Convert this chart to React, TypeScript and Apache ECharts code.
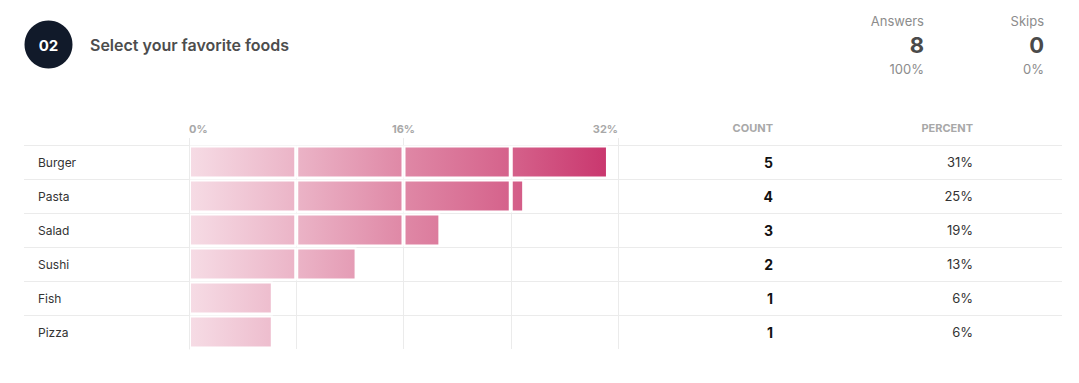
import React, { useEffect, useRef } from 'react';
import * as echarts from 'echarts';

// ---- data ----
const questionNumber = '02';
const questionTitle = 'Select your favorite foods';
const foods = ['Burger', 'Pasta', 'Salad', 'Sushi', 'Fish', 'Pizza'];
const counts = [5, 4, 3, 2, 1, 1];
const percentValues = [31.25, 25, 18.75, 12.5, 6.25, 6.25];
const percentLabels = ['31%', '25%', '19%', '13%', '6%', '6%'];
const segmentStarts = [0, 8, 16, 24];
const segmentSize = 8;
const axisMin = 0;
const axisMax = 32;
const axisInterval = 16;
const answersLabel = 'Answers';
const answersCount = '8';
const answersPct = '100%';
const skipsLabel = 'Skips';
const skipsCount = '0';
const skipsPct = '0%';

const FONT = 'Inter, "Noto Sans", sans-serif';

export default function App() {
  const ref = useRef<HTMLDivElement>(null);

  useEffect(() => {
    document.body.style.margin = '0';
    if (!ref.current) return;
    const chart = echarts.init(ref.current, null, { renderer: 'svg' });

    // bottom-to-top order for non-inverse category axes
    const cats = foods.slice().reverse();
    const cnt = counts.map(String).reverse();
    const pctL = percentLabels.slice().reverse();
    const pctV = percentValues.slice().reverse();

    const gridLeft = 189;
    const gridWidth = 429;
    const gradient = {
      type: 'linear',
      x: gridLeft,
      y: 0,
      x2: gridLeft + gridWidth,
      y2: 0,
      global: true,
      colorStops: [
        { offset: 0, color: '#f6dce5' },
        { offset: 0.25, color: '#ebb4c7' },
        { offset: 0.5, color: '#df88a6' },
        { offset: 0.75, color: '#d5628b' },
        { offset: 1, color: '#c8326b' },
      ],
    };

    const segSeries = segmentStarts.map((s, k) => ({
      type: 'bar',
      name: 'seg' + k,
      stack: 'pct',
      xAxisIndex: 0,
      yAxisIndex: 0,
      barWidth: 33,
      data: pctV.map((p) => {
        const v = Math.max(0, Math.min(segmentSize, p - s));
        return v > 0 ? v : '-';
      }),
      itemStyle: { color: gradient, borderColor: '#ffffff', borderWidth: 2 },
      emphasis: { disabled: true },
      silent: true,
    }));

    const labelGray = '#a8a8a8';
    const gridColor = '#ebebeb';

    chart.setOption({
      animation: false,
      backgroundColor: '#ffffff',
      textStyle: { fontFamily: FONT },
      grid: [
        { left: gridLeft, top: 145, width: gridWidth, height: 204, containLabel: false },
        { left: 24, top: 145, width: 1038, height: 204, containLabel: false },
      ],
      xAxis: [
        {
          gridIndex: 0,
          type: 'value',
          position: 'top',
          min: axisMin,
          max: axisMax,
          interval: axisInterval,
          axisLine: { show: false },
          axisTick: { show: true, length: 7, lineStyle: { color: gridColor } },
          axisLabel: {
            formatter: '{value}%',
            color: labelGray,
            fontSize: 11,
            fontWeight: 700,
            fontFamily: FONT,
            margin: 11,
            alignMinLabel: 'left',
            alignMaxLabel: 'right',
          },
          splitLine: { show: true, lineStyle: { color: gridColor } },
          minorTick: { show: false, splitNumber: 2 },
          minorSplitLine: { show: true, lineStyle: { color: gridColor } },
        },
        {
          gridIndex: 1,
          type: 'value',
          min: 0,
          max: 1,
          show: false,
        },
      ],
      yAxis: [
        {
          gridIndex: 0,
          type: 'category',
          data: cats,
          z: 10,
          axisLine: { show: true, lineStyle: { color: gridColor } },
          axisTick: { show: false },
          axisLabel: {
            align: 'left',
            margin: gridLeft - 38,
            color: '#333333',
            fontSize: 12,
            fontFamily: FONT,
          },
          splitLine: { show: false },
        },
        {
          gridIndex: 0,
          type: 'category',
          data: cnt,
          position: 'right',
          offset: 773 - (gridLeft + gridWidth),
          axisLine: { show: false },
          axisTick: { show: false },
          axisLabel: {
            align: 'right',
            margin: 0,
            color: '#111111',
            fontSize: 14,
            fontWeight: 700,
            fontFamily: FONT,
          },
          name: 'COUNT',
          nameLocation: 'end',
          nameGap: 17,
          nameTextStyle: {
            align: 'right',
            verticalAlign: 'middle',
            color: labelGray,
            fontSize: 11,
            fontWeight: 700,
            fontFamily: FONT,
          },
        },
        {
          gridIndex: 0,
          type: 'category',
          data: pctL,
          position: 'right',
          offset: 973 - (gridLeft + gridWidth),
          axisLine: { show: false },
          axisTick: { show: false },
          axisLabel: {
            align: 'right',
            margin: 0,
            color: '#333333',
            fontSize: 13,
            fontFamily: FONT,
          },
          name: 'PERCENT',
          nameLocation: 'end',
          nameGap: 17,
          nameTextStyle: {
            align: 'right',
            verticalAlign: 'middle',
            color: labelGray,
            fontSize: 11,
            fontWeight: 700,
            fontFamily: FONT,
          },
        },
        {
          gridIndex: 1,
          type: 'value',
          min: 0,
          max: foods.length,
          interval: 1,
          axisLine: { show: false },
          axisTick: { show: false },
          axisLabel: { show: false },
          splitLine: { show: true, showMinLine: false, lineStyle: { color: gridColor } },
        },
      ],
      series: segSeries,
      graphic: [
        { type: 'circle', shape: { cx: 48.5, cy: 44.5, r: 24 }, style: { fill: '#111a2a' } },
        {
          type: 'text', x: 48.5, y: 45,
          style: { text: questionNumber, fill: '#ffffff', fontSize: 15, fontWeight: 700, fontFamily: FONT, align: 'center', verticalAlign: 'middle', textAlign: 'center', textVerticalAlign: 'middle' },
        },
        {
          type: 'text', x: 90, y: 45,
          style: { text: questionTitle, fill: '#4d4d4d', fontSize: 16, fontWeight: 600, fontFamily: FONT, align: 'left', verticalAlign: 'middle', textAlign: 'left', textVerticalAlign: 'middle' },
        },
        {
          type: 'text', x: 924, y: 21,
          style: { text: answersLabel, fill: '#8c8c8c', fontSize: 13, fontFamily: FONT, align: 'right', verticalAlign: 'middle', textAlign: 'right', textVerticalAlign: 'middle' },
        },
        {
          type: 'text', x: 924, y: 45,
          style: { text: answersCount, fill: '#4a4a4a', fontSize: 22, fontWeight: 700, fontFamily: FONT, align: 'right', verticalAlign: 'middle', textAlign: 'right', textVerticalAlign: 'middle' },
        },
        {
          type: 'text', x: 924, y: 69,
          style: { text: answersPct, fill: '#8c8c8c', fontSize: 13, fontFamily: FONT, align: 'right', verticalAlign: 'middle', textAlign: 'right', textVerticalAlign: 'middle' },
        },
        {
          type: 'text', x: 1044, y: 21,
          style: { text: skipsLabel, fill: '#8c8c8c', fontSize: 13, fontFamily: FONT, align: 'right', verticalAlign: 'middle', textAlign: 'right', textVerticalAlign: 'middle' },
        },
        {
          type: 'text', x: 1044, y: 45,
          style: { text: skipsCount, fill: '#4a4a4a', fontSize: 22, fontWeight: 700, fontFamily: FONT, align: 'right', verticalAlign: 'middle', textAlign: 'right', textVerticalAlign: 'middle' },
        },
        {
          type: 'text', x: 1044, y: 69,
          style: { text: skipsPct, fill: '#8c8c8c', fontSize: 13, fontFamily: FONT, align: 'right', verticalAlign: 'middle', textAlign: 'right', textVerticalAlign: 'middle' },
        },
      ],
    } as any);

    return () => chart.dispose();
  }, []);

  return <div ref={ref} style={{ width: 1079, height: 383 }} />;
}
